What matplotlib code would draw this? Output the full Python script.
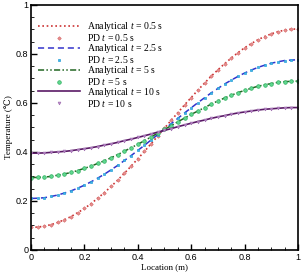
import numpy as np
import matplotlib.pyplot as plt

plt.rcParams['font.family'] = ['Liberation Serif', 'DejaVu Serif']
plt.rcParams['mathtext.fontset'] = 'custom'
plt.rcParams['mathtext.rm'] = 'Liberation Serif'
plt.rcParams['mathtext.it'] = 'Liberation Serif:italic'

x = np.linspace(0, 1, 41)

T05 = [0.092, 0.093, 0.097, 0.103, 0.112, 0.123, 0.136, 0.152, 0.169, 0.189, 0.211,
       0.234, 0.259, 0.285, 0.313, 0.342, 0.372, 0.402, 0.434, 0.465, 0.497,
       0.529, 0.560, 0.592, 0.622, 0.652, 0.681, 0.709, 0.735, 0.760, 0.783,
       0.805, 0.825, 0.842, 0.858, 0.871, 0.882, 0.891, 0.897, 0.901, 0.902]
T25 = [0.210, 0.211, 0.213, 0.218, 0.224, 0.232, 0.241, 0.252, 0.264, 0.278, 0.293,
       0.309, 0.327, 0.345, 0.365, 0.385, 0.406, 0.427, 0.449, 0.471, 0.493,
       0.515, 0.537, 0.559, 0.580, 0.601, 0.621, 0.641, 0.659, 0.677, 0.693,
       0.708, 0.722, 0.734, 0.745, 0.754, 0.762, 0.768, 0.773, 0.775, 0.776]
T5 = [0.295, 0.296, 0.297, 0.300, 0.305, 0.310, 0.316, 0.324, 0.333, 0.342, 0.353,
      0.364, 0.376, 0.389, 0.403, 0.417, 0.431, 0.446, 0.461, 0.477, 0.492,
      0.507, 0.523, 0.538, 0.553, 0.567, 0.581, 0.595, 0.608, 0.620, 0.631,
      0.642, 0.651, 0.660, 0.668, 0.674, 0.679, 0.684, 0.687, 0.688, 0.689]
T10 = [0.395, 0.395, 0.396, 0.398, 0.400, 0.402, 0.405, 0.409, 0.413, 0.417, 0.422,
       0.428, 0.433, 0.439, 0.446, 0.452, 0.459, 0.466, 0.473, 0.481, 0.488,
       0.495, 0.503, 0.510, 0.517, 0.524, 0.530, 0.537, 0.543, 0.548, 0.554,
       0.559, 0.563, 0.567, 0.571, 0.574, 0.576, 0.578, 0.580, 0.581, 0.581]

fig = plt.figure(figsize=(3.01, 2.74), dpi=100)
ax = fig.add_axes([0.103, 0.088, 0.887, 0.894])

ax.plot(x, T05, color='#cc3333', linestyle=(0, (1, 1.6)), lw=1.2, label='Analytical $t$ = 0.5 s')
ax.plot(x, T05, linestyle='none', marker='D', ms=1.8, mfc='#e89090', mec='#d87070', mew=0.5,
        label='PD $t$ = 0.5 s')
ax.plot(x, T25, color='#3333cc', linestyle=(0, (4, 2.5)), lw=1.1, label='Analytical $t$ = 2.5 s')
ax.plot(x, T25, linestyle='none', marker='s', ms=2.0, mfc='#40b8e8', mec='#2aa0d8', mew=0.5,
        label='PD $t$ = 2.5 s')
ax.plot(x, T5, color='#226622', linestyle=(0, (4, 1.5, 1, 1.5, 1, 1.5)), lw=1.1,
        label='Analytical $t$ = 5 s')
ax.plot(x, T5, linestyle='none', marker='o', ms=2.6, mfc='#60d890', mec='#30b060', mew=0.5,
        label='PD $t$ = 5 s')
ax.plot(x, T10, color='#5a1a66', linestyle='-', lw=1.2, label='Analytical $t$ = 10 s')
ax.plot(x, T10, linestyle='none', marker='v', ms=2.0, mfc='#c090d0', mec='#a070b0', mew=0.5,
        label='PD $t$ = 10 s')

ax.set_xlim(0, 1)
ax.set_ylim(0, 1)
ticks = [0, 0.2, 0.4, 0.6, 0.8, 1]
labels = ['0', '0.2', '0.4', '0.6', '0.8', '1']
ax.set_xticks(ticks)
ax.set_yticks(ticks)
ax.set_xticklabels(labels, family='Liberation Sans', fontsize=6.5)
ax.set_yticklabels(labels, family='Liberation Sans', fontsize=6.5)
ax.set_xticks(np.arange(0, 1.01, 0.05), minor=True)
ax.set_yticks(np.arange(0, 1.01, 0.05), minor=True)
ax.tick_params(which='major', direction='in', length=4.5, width=1.0, pad=2)
ax.tick_params(which='minor', direction='in', length=2.2, width=0.6)
for s in ax.spines.values():
    s.set_linewidth(1.2)

ax.set_xlabel('Location (m)', fontsize=6.5, labelpad=1)
ax.set_ylabel('Temperature (℃)', fontsize=6.5, labelpad=2)

ax.legend(loc='upper left', frameon=False, fontsize=7, handlelength=4.3, handletextpad=0.8,
          labelspacing=-0.11, borderaxespad=0.3, bbox_to_anchor=(0.0, 0.965), numpoints=1)

fig.savefig('out.png', dpi=100)
